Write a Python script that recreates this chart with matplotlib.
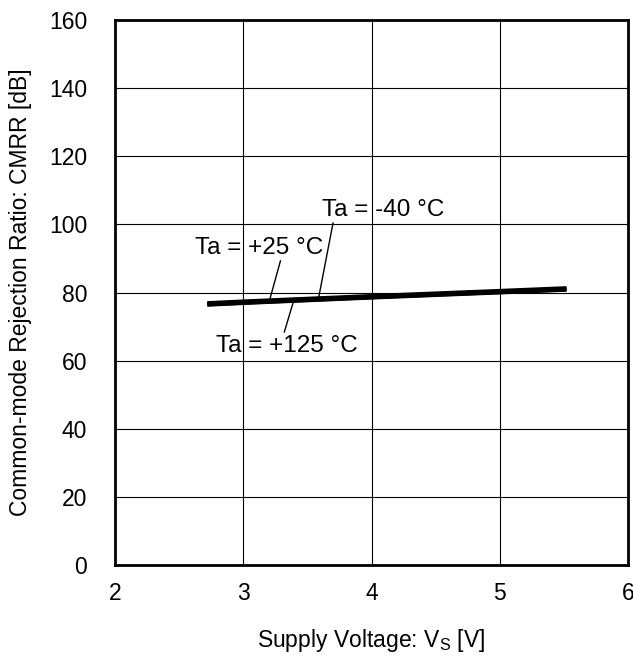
import numpy as np
import matplotlib.pyplot as plt

plt.rcParams["font.family"] = ["Liberation Sans", "DejaVu Sans"]

# supply voltage [V]
vs = [2.72, 3.0, 4.0, 5.0, 5.52]
# CMRR [dB] per temperature
cmrr_m40 = [76.8, 77.3, 78.9, 80.4, 81.2]
cmrr_25 = [76.6, 77.1, 78.7, 80.2, 81.0]
cmrr_125 = [76.5, 77.0, 78.6, 80.1, 80.9]

xticks = [2, 3, 4, 5, 6]
yticks = [0, 20, 40, 60, 80, 100, 120, 140, 160]

# labels: text position and leader line (from, to)
labels = ["Ta = -40 °C", "Ta = +25 °C", "Ta = +125 °C"]
label_xy = [(4.09, 104.2), (3.12, 93.1), (3.34, 64.4)]
leader_x = [(3.70, 3.59), (3.29, 3.21), (3.39, 3.32)]
leader_y = [(100.4, 78.9), (89.3, 78.4), (77.2, 68.4)]

fs = 16.5

fig = plt.figure(figsize=(6.33, 6.57), dpi=100)
ax = fig.add_axes([0.1817, 0.14, 0.8104, 0.8295])

for y in (cmrr_m40, cmrr_25, cmrr_125):
    ax.plot(vs, y, color="black", linewidth=3.3, solid_capstyle="butt")

for txt, (tx, ty), lx, ly in zip(labels, label_xy, leader_x, leader_y):
    ax.plot(lx, ly, color="black", linewidth=1.0)
    ax.text(tx, ty, txt, fontsize=17.5, ha="center", va="center")

ax.set_xlim(2, 6)
ax.set_ylim(0, 160)
ax.set_xticks(xticks)
ax.set_yticks(yticks)
ax.grid(True, color="black", linewidth=0.8)
ax.tick_params(direction="in", length=0, labelsize=fs)
ax.tick_params(axis="x", pad=12)
ax.tick_params(axis="y", pad=20)
for s in ax.spines.values():
    s.set_linewidth(2.0)

ax.set_xlabel("Supply Voltage: V$_\\mathregular{S}$ [V]", fontsize=fs, labelpad=16)
ax.set_ylabel("Common-mode Rejection Ratio: CMRR [dB]", fontsize=fs, labelpad=12)

fig.savefig("out.png", dpi=100)
